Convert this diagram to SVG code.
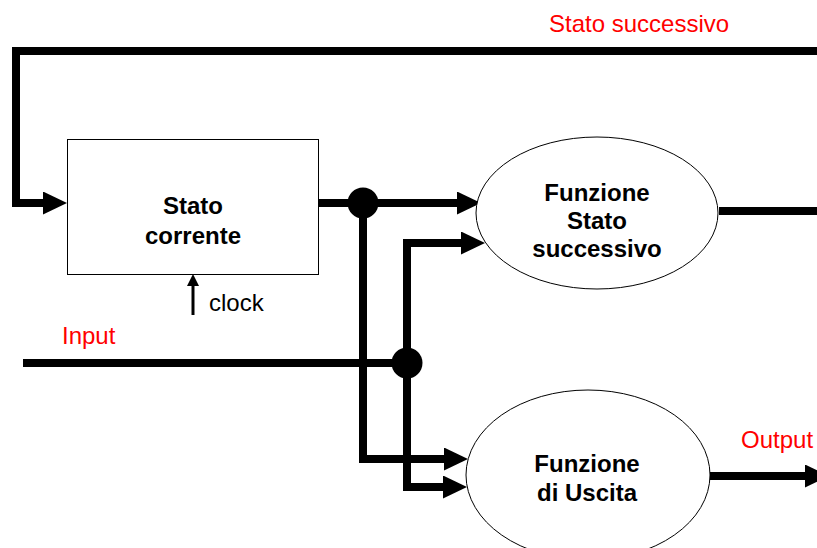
<svg xmlns="http://www.w3.org/2000/svg" width="817" height="548" viewBox="0 0 817 548">
<style>
.box{fill:#fff;stroke:#000;stroke-width:1}
.t{font-family:"Liberation Sans",Arial,sans-serif;font-size:24px}
.b{font-weight:bold;text-anchor:middle;fill:#000}
.red{fill:#ff0000}
.w{fill:none;stroke:#000;stroke-width:8;stroke-linejoin:miter;stroke-linecap:butt}
.dot{fill:#000}
</style>
<defs>
<marker id="ah" viewBox="0 0 24 23" markerWidth="24" markerHeight="23" markerUnits="userSpaceOnUse" refX="0" refY="11.5" orient="auto">
<polygon points="0,0 24,11.5 0,23" fill="#000"/>
</marker>
<marker id="ahs" viewBox="0 0 12 12" markerWidth="12" markerHeight="12" markerUnits="userSpaceOnUse" refX="0" refY="6" orient="auto">
<polygon points="0,0 12,6 0,12" fill="#000"/>
</marker>
</defs>
<rect width="817" height="548" fill="#fff"/>
<g id="connectors">
<path class="w" d="M817,51 H16 V203 H43" marker-end="url(#ah)"/>
<path class="w" d="M319,203 H457" marker-end="url(#ah)"/>
<path class="w" d="M363,203 V459 H444" marker-end="url(#ah)"/>
<path class="w" d="M23,363 H407"/>
<path class="w" d="M461,243 H407 V487 H443" marker-end="url(#ah)"/>
<path class="w" d="M407,243 H461" marker-end="url(#ah)"/>
<path class="w" d="M719,211 H817"/>
<path class="w" d="M710,476 H805" marker-end="url(#ah)"/>
<path d="M193,315 V286" stroke="#000" stroke-width="3" fill="none" marker-end="url(#ahs)"/>
<circle class="dot" cx="363" cy="203" r="15.5"/>
<circle class="dot" cx="407" cy="363" r="15.5"/>
</g>
<g id="stato-corrente">
<rect class="box" x="67.5" y="139.5" width="251" height="135"/>
<text class="t b" x="193" y="214">Stato</text>
<text class="t b" x="193" y="244">corrente</text>
</g>
<g id="funzione-stato-successivo">
<ellipse class="box" cx="597" cy="213" rx="121" ry="76"/>
<text class="t b" x="597" y="201">Funzione</text>
<text class="t b" x="597" y="229">Stato</text>
<text class="t b" x="597" y="257">successivo</text>
</g>
<g id="funzione-uscita">
<ellipse class="box" cx="588" cy="475" rx="122" ry="85"/>
<text class="t b" x="587" y="472">Funzione</text>
<text class="t b" x="587" y="501">di Uscita</text>
</g>
<g id="labels">
<text class="t red" x="549" y="32">Stato successivo</text>
<text class="t red" x="62" y="344">Input</text>
<text class="t red" x="741" y="448">Output</text>
<text class="t" x="209" y="311" fill="#000">clock</text>
</g>
</svg>
